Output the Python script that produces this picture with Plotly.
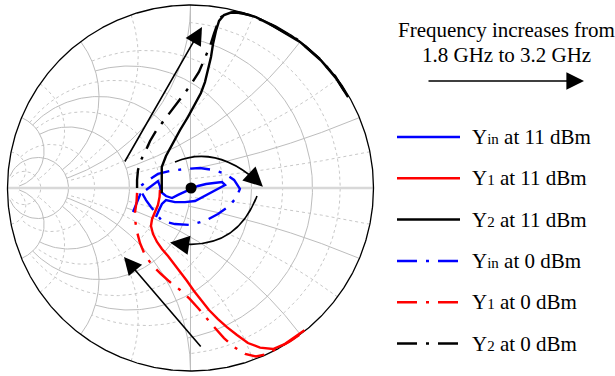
import numpy as np
import plotly.graph_objects as go

# ---------------- data (reflection coefficient, real / imag) ----------------
yin11_re = [-0.243, -0.210, -0.178, -0.167, -0.161, -0.134, -0.101, -0.068, -0.036, 0.003, 0.041, 0.085,
            0.128, 0.172, 0.189, 0.150, 0.107, 0.063, 0.025, -0.030, -0.085, -0.134, -0.156, -0.172, -0.189]
yin11_im = [-0.011, 0.016, 0.038, 0.011, -0.022, -0.044, -0.055, -0.038, -0.022, -0.005, 0.011, 0.022,
            0.027, 0.033, 0.016, -0.005, -0.027, -0.055, -0.071, -0.077, -0.077, -0.066, -0.087, -0.120, -0.158]

y1_11_re = [-0.167, -0.169, -0.178, -0.194, -0.210, -0.216, -0.205, -0.183, -0.156, -0.123, -0.090, -0.057,
            -0.019, 0.019, 0.057, 0.101, 0.150, 0.199, 0.254, 0.314, 0.380, 0.451, 0.511, 0.579, 0.623]
y1_11_im = [-0.011, -0.049, -0.093, -0.131, -0.169, -0.208, -0.251, -0.295, -0.333, -0.372, -0.415, -0.454,
            -0.508, -0.563, -0.612, -0.667, -0.716, -0.760, -0.803, -0.847, -0.872, -0.880, -0.855, -0.810, -0.777]

y2_11_re = [-0.157, -0.157, -0.157, -0.134, -0.096, -0.057, -0.014, 0.025, 0.057, 0.079, 0.096, 0.112,
            0.123, 0.139, 0.156, 0.183, 0.221, 0.281, 0.358, 0.451, 0.598, 0.712, 0.795, 0.861]
y2_11_im = [-0.027, 0.044, 0.115, 0.175, 0.246, 0.317, 0.388, 0.459, 0.519, 0.579, 0.645, 0.716,
            0.787, 0.858, 0.913, 0.945, 0.959, 0.956, 0.934, 0.885, 0.798, 0.698, 0.600, 0.497]

yin0_re = [-0.314, -0.292, -0.276, -0.281, -0.260, -0.221, -0.178, -0.112, -0.030, 0.052, 0.128, 0.189, 0.238,
           0.270, 0.249, 0.205, 0.150, 0.079, -0.003, -0.085, -0.156, -0.183, -0.216, -0.243, -0.265]
yin0_im = [-0.131, -0.082, -0.038, 0.005, 0.022, 0.049, 0.077, 0.093, 0.104, 0.109, 0.098, 0.077, 0.044,
           -0.005, -0.055, -0.104, -0.142, -0.180, -0.202, -0.197, -0.180, -0.148, -0.104, -0.066, -0.027]

y1_0_re = [-0.292, -0.295, -0.303, -0.301, -0.292, -0.276, -0.249, -0.210, -0.161, -0.112, -0.057, -0.003,
           0.041, 0.085, 0.134, 0.183, 0.238, 0.298, 0.358, 0.418, 0.480, 0.540, 0.594]
y1_0_im = [-0.027, -0.077, -0.131, -0.186, -0.240, -0.301, -0.366, -0.421, -0.470, -0.514, -0.557, -0.607,
           -0.656, -0.710, -0.765, -0.820, -0.869, -0.907, -0.921, -0.907, -0.874, -0.840, -0.803]

y2_0_re = [-0.292, -0.292, -0.287, -0.270, -0.243, -0.221, -0.189, -0.156, -0.117, -0.079, -0.041, -0.003,
           0.046, 0.079, 0.107, 0.128, 0.145, 0.167, 0.199, 0.243, 0.325, 0.434, 0.587, 0.702, 0.790, 0.844]
y2_0_im = [0.000, 0.044, 0.098, 0.153, 0.208, 0.257, 0.311, 0.355, 0.404, 0.459, 0.503, 0.557,
           0.634, 0.710, 0.776, 0.842, 0.891, 0.934, 0.956, 0.962, 0.945, 0.896, 0.809, 0.710, 0.612, 0.525]

center_re = [0.003]
center_im = [0.0]

legend_labels = ["Y<span style='font-size:15px'>in</span> at 11 dBm",
                 "Y<span style='font-size:15px'>1</span> at 11 dBm",
                 "Y<span style='font-size:15px'>2</span> at 11 dBm",
                 "Y<span style='font-size:15px'>in</span> at 0 dBm",
                 "Y<span style='font-size:15px'>1</span> at 0 dBm",
                 "Y<span style='font-size:15px'>2</span> at 0 dBm"]
header_lines = ["Frequency increases from", "1.8 GHz to 3.2 GHz"]

# grid values (admittance chart): value, clip limit
major_vals = [0.2, 0.5, 1.0, 2.0, 5.0]
major_clip = [1.0, 2.0, 5.0, 5.0, 30.0]
minor_vals = [0.1, 0.33, 0.7, 1.4, 3.2, 10.0]
minor_clip = [1.0, 2.0, 5.0, 5.0, 10.0, 30.0]

# ---------------- geometry ----------------
W, H = 615, 376
R = 183.0
CX, CY = 190.5, 188.0
FONT = "Liberation Serif"
DASHDOT = "20px,9px,3px,9px"


def gam(g, b):
    y = g + 1j * b
    return (1 - y) / (1 + y)


def grid_lines(vals, clips):
    xs, ys = [], []
    for v, c in zip(vals, clips):
        t = np.tan(np.linspace(-np.arctan(c), np.arctan(c), 300))
        z = gam(v, t)
        xs += list(z.real) + [None]
        ys += list(z.imag) + [None]
        for sgn in (1, -1):
            s = np.tan(np.linspace(0, np.arctan(c), 300))
            z = gam(s, sgn * v)
            xs += list(z.real) + [None]
            ys += list(z.imag) + [None]
    return xs, ys


fig = go.Figure()

mx, my = grid_lines(minor_vals, minor_clip)
fig.add_trace(go.Scatter(x=mx, y=my, mode="lines", line=dict(color="#c8c8c8", width=1, dash="dot"),
                         hoverinfo="skip", showlegend=False))
Mx, My = grid_lines(major_vals, major_clip)
Mx += [0, 0, None]
My += [-1, 1, None]
fig.add_trace(go.Scatter(x=Mx, y=My, mode="lines", line=dict(color="#bdbdbd", width=1),
                         hoverinfo="skip", showlegend=False))
fig.add_trace(go.Scatter(x=[-1, 1], y=[0, 0], mode="lines", line=dict(color="#d8d8d8", width=2.5),
                         hoverinfo="skip", showlegend=False))
th = np.linspace(0, 2 * np.pi, 721)
fig.add_trace(go.Scatter(x=np.cos(th), y=np.sin(th), mode="lines", line=dict(color="black", width=1.3),
                         hoverinfo="skip", showlegend=False))

series = [
    (yin0_re, yin0_im, "#0000ff", DASHDOT),
    (y1_0_re, y1_0_im, "#ff0000", DASHDOT),
    (y2_0_re, y2_0_im, "#000000", DASHDOT),
    (yin11_re, yin11_im, "#0000ff", "solid"),
    (y1_11_re, y1_11_im, "#ff0000", "solid"),
    (y2_11_re, y2_11_im, "#000000", "solid"),
]
for xr, yi, col, dash in series:
    fig.add_trace(go.Scatter(x=xr, y=yi, mode="lines", line=dict(color=col, width=2.4, dash=dash),
                             hoverinfo="skip", showlegend=False))

fig.add_trace(go.Scatter(x=center_re, y=center_im, mode="markers",
                         marker=dict(color="black", size=11), hoverinfo="skip", showlegend=False))


def d(px, py):
    return (px - CX) / R, (CY - py) / R


annotations = []
shapes = []


def arrow(tail, head, width=1.6):
    hx, hy = d(*head)
    tx, ty = d(*tail)
    annotations.append(dict(x=hx, y=hy, ax=tx, ay=ty, xref="x", yref="y", axref="x", ayref="y",
                            text="", showarrow=True, arrowhead=2, arrowsize=2.2, arrowwidth=width,
                            arrowcolor="black", standoff=0, startstandoff=0))


arrow((124, 163), (202, 27))
arrow((202, 348), (124, 257))
arrow((427, 81), (584, 81))


def curve(p0, p1, p2):
    a, b, c = d(*p0), d(*p1), d(*p2)
    shapes.append(dict(type="path", xref="x", yref="y",
                       path=f"M {a[0]},{a[1]} Q {b[0]},{b[1]} {c[0]},{c[1]}",
                       line=dict(color="black", width=1.6)))
    vx, vy = p2[0] - p1[0], p2[1] - p1[1]
    n = (vx ** 2 + vy ** 2) ** 0.5
    hx, hy = d(p2[0] + vx / n * 4, p2[1] + vy / n * 4)
    annotations.append(dict(x=hx, y=hy, ax=-vx / n * 12, ay=-vy / n * 12, xref="x", yref="y",
                            text="", showarrow=True, arrowhead=2, arrowsize=2.4, arrowwidth=1.6,
                            arrowcolor="black", standoff=0))


curve((175, 162), (217.5, 144), (260, 184))
curve((257, 196), (235.5, 252.5), (174, 243))

for i, line in enumerate(header_lines):
    hx, hy = d(506, 30 + 25 * i)
    annotations.append(dict(x=hx, y=hy, xref="x", yref="y", text=line, showarrow=False,
                            font=dict(family=FONT, size=21, color="black"), xanchor="center", yanchor="middle"))

leg_style = [("#0000ff", "solid"), ("#ff0000", "solid"), ("#000000", "solid"),
             ("#0000ff", DASHDOT), ("#ff0000", DASHDOT), ("#000000", DASHDOT)]
for i, (lab, (col, dash)) in enumerate(zip(legend_labels, leg_style)):
    py = 137 + 41.3 * i
    x0, y0 = d(397, py)
    x1, _ = d(460, py)
    shapes.append(dict(type="line", xref="x", yref="y", x0=x0, x1=x1, y0=y0, y1=y0,
                       line=dict(color=col, width=2.5, dash=dash)))
    tx, ty = d(470, py)
    annotations.append(dict(x=tx, y=ty, xref="x", yref="y", text=lab, showarrow=False,
                            font=dict(family=FONT, size=21, color="black"), xanchor="left", yanchor="middle"))

fig.update_layout(
    width=W, height=H, margin=dict(l=0, r=0, t=0, b=0),
    paper_bgcolor="white", plot_bgcolor="white",
    xaxis=dict(range=[-CX / R, (W - CX) / R], visible=False, fixedrange=True),
    yaxis=dict(range=[-(H - CY) / R, CY / R], visible=False, fixedrange=True),
    annotations=annotations, shapes=shapes, showlegend=False,
)
fig.write_html("out.html", config={"displayModeBar": False},
               post_script="document.body.style.margin='0';document.body.style.overflow='hidden';")
